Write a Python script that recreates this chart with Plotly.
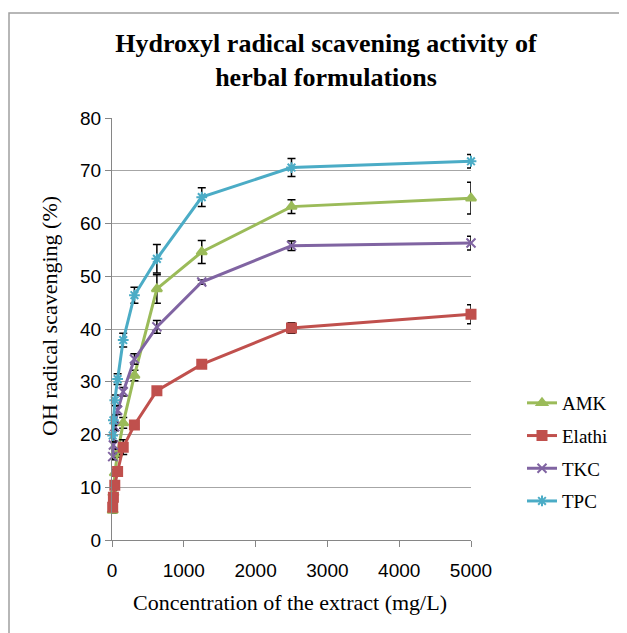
import plotly.graph_objects as go

conc = [9.77, 19.53, 39.06, 78.13, 156.25, 312.5, 625, 1250, 2500, 5000]

amk = [5.6, 8.9, 12.7, 16.5, 22.2, 31.2, 47.6, 54.6, 63.2, 64.8]
amk_err = [0.5, 0.6, 0.6, 0.8, 1.0, 1.0, 2.7, 2.2, 1.3, 3.0]

elathi = [6.2, 8.1, 10.4, 13.0, 17.6, 21.8, 28.3, 33.3, 40.2, 42.8]
elathi_err = [0.4, 0.5, 0.5, 0.8, 1.4, 0.4, 0.4, 0.5, 1.0, 1.8]

tkc = [15.8, 18.0, 21.5, 24.6, 28.1, 34.3, 40.4, 48.9, 55.8, 56.3]
tkc_err = [0.6, 0.8, 0.8, 0.8, 0.8, 1.0, 1.2, 0.4, 0.9, 1.3]

tpc = [19.8, 22.7, 26.5, 30.5, 37.9, 46.4, 53.3, 65.0, 70.6, 71.8]
tpc_err = [1.2, 1.0, 1.0, 1.0, 1.3, 1.5, 2.7, 1.8, 1.7, 1.3]

series = [
    ("AMK", amk, amk_err, "#9BBB59", "triangle-up", 9),
    ("Elathi", elathi, elathi_err, "#C0504D", "square", 9),
    ("TKC", tkc, tkc_err, "#8064A2", "x-thin-open", 9),
    ("TPC", tpc, tpc_err, "#4BACC6", "asterisk-open", 9),
]

# page has an 8px body margin; figure is sized to fit the window
W, H = 619, 625
L, R, T, B = 104, 156, 110, 93
PW, PH = W - L - R, H - T - B

fig = go.Figure()
for i, (name, ys, errs, col, sym, sz) in enumerate(series):
    fig.add_trace(go.Scatter(
        x=conc, y=ys, name=name, mode="lines+markers",
        line=dict(color=col, width=3),
        marker=dict(symbol=sym, size=sz, color=col, line=dict(color=col, width=2)),
        error_y=dict(type="data", array=errs, visible=True, color="black",
                     thickness=1.5, width=4),
        cliponaxis=False, legendgroup=f"g{i}",
    ))

axis_font = dict(family="Liberation Sans", size=19, color="#000000")
fig.update_layout(
    width=W, height=H,
    margin=dict(l=L, r=R, t=T, b=B),
    paper_bgcolor="white", plot_bgcolor="white",
    title=dict(text="<b>Hydroxyl radical scavening activity of<br>herbal formulations</b>",
               font=dict(family="Liberation Serif", size=26, color="black"),
               x=318 / W, xref="container", xanchor="center",
               y=1 - 44 / H, yref="container", yanchor="top"),
    showlegend=True,
    legend=dict(x=(522 - 8 - L) / PW, xanchor="left", y=(532 - 376) / PH, yanchor="top",
                font=dict(family="Liberation Serif", size=19, color="black"),
                tracegroupgap=5, bgcolor="rgba(0,0,0,0)"),
    xaxis=dict(range=[0, 5000], tickvals=[0, 1000, 2000, 3000, 4000, 5000],
               showgrid=False, zeroline=False, showline=True, linecolor="#868686",
               linewidth=1, ticks="outside", ticklen=6, tickcolor="#868686",
               tickfont=axis_font, ticklabelstandoff=7),
    yaxis=dict(range=[0, 80], dtick=10, showgrid=True, gridcolor="#A6A6A6",
               gridwidth=1, zeroline=False, showline=True, linecolor="#868686",
               linewidth=1, ticks="outside", ticklen=6, tickcolor="#868686",
               tickfont=axis_font),
    shapes=[dict(type="rect", xref="paper", yref="paper",
                 x0=(1 - L) / PW, x1=1.6, y0=-0.4, y1=(H - B - 5) / PH,
                 line=dict(color="#A0A0A0", width=1.5), fillcolor="rgba(0,0,0,0)",
                 layer="below")],
    annotations=[
        dict(text="Concentration of the extract (mg/L)", xref="paper", yref="paper",
             x=(282 - L) / PW, y=(H - B - 594) / PH, xanchor="center", yanchor="middle",
             showarrow=False, font=dict(family="Liberation Serif", size=22, color="black")),
        dict(text="OH radical scavenging (%)", xref="paper", yref="paper",
             x=(41 - L) / PW, y=(H - B - 308) / PH, xanchor="center", yanchor="middle",
             textangle=-90, showarrow=False,
             font=dict(family="Liberation Serif", size=22, color="black")),
    ],
)

fig.write_html("out.html")
